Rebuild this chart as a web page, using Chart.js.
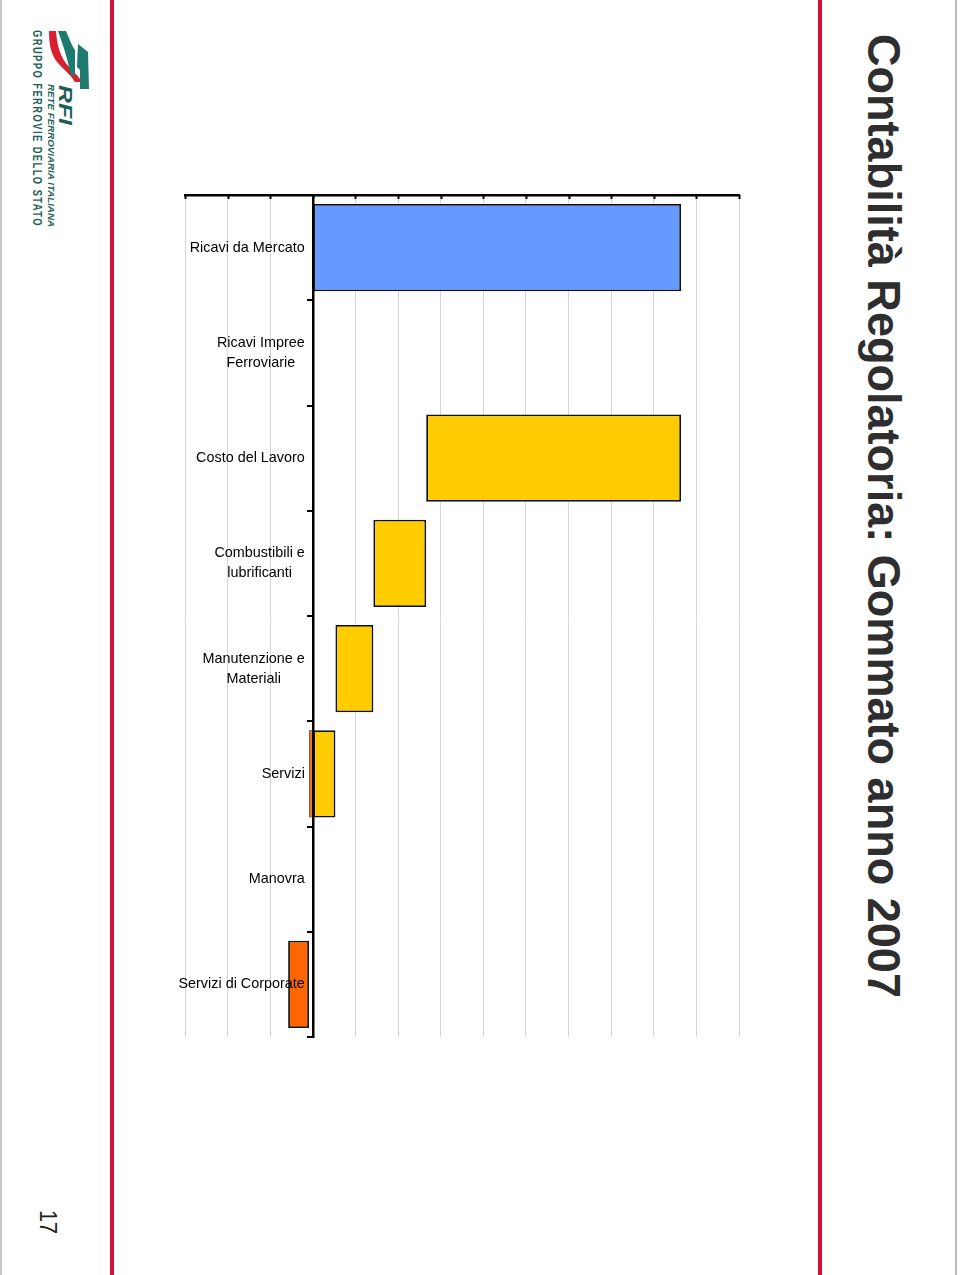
<!DOCTYPE html>
<html>
<head>
  <meta charset="utf-8">
  <script src="https://cdn.jsdelivr.net/npm/chart.js@4/dist/chart.umd.min.js"></script>
  <style>
    html, body { margin: 0; padding: 0; background: #fff; }
    #page { position: relative; width: 960px; height: 1275px; overflow: hidden; background: #fff; }
    #chart { position: absolute; left: 0; top: 0; }
    .vline { position: absolute; top: 0; height: 1275px; }
    .vtext { position: absolute; writing-mode: vertical-rl; white-space: nowrap; transform-origin: top left; font-family: "Liberation Sans", Arial, sans-serif; }
  </style>
</head>
<body>
<div id="page">
  <div class="vline" style="left:0;width:2px;background:#c8c8c8"></div>
  <div class="vline" style="left:955px;width:2px;background:#b8b8b8"></div>
  <div class="vline" style="left:110px;width:4px;background:#d3123b"></div>
  <div class="vline" style="left:818px;width:4px;background:#d3123b"></div>

  <svg style="position:absolute;left:0;top:0" width="110" height="130">
    <path d="M49,31 L56,31 C57,45 60,58 70,68 C76,74 80,78 82,82 L75,82 C71,75 64,70 58,63 C51,55 49,45 49,31 Z" fill="#d8202e"/>
    <path d="M58,31 L66,31 C70,40 72,46 75,50 L75,77 L70,73 C68,60 64,48 58,31 Z" fill="#1d7a6e"/>
    <path d="M78,44 L88,52 L89,89 L80,89 L80,70 L77,67 Z" fill="#1d7a6e"/>
  </svg>

  <div class="vtext" style="left:30px;top:30px;font-size:13px;font-weight:bold;color:#1d5f58;letter-spacing:2px" data-len="197">GRUPPO FERROVIE DELLO STATO</div>
  <div class="vtext" style="left:46px;top:84px;font-size:9.5px;font-weight:bold;font-style:italic;color:#1d5f58" data-len="143">RETE FERROVIARIA ITALIANA</div>
  <div class="vtext" style="left:54px;top:85px;font-size:19px;font-weight:bold;font-style:italic;color:#1d5f58" data-len="40">RFI</div>
  <div class="vtext" style="left:34px;top:1210px;font-size:23px;color:#222" data-len="24">17</div>
  <div class="vtext" style="left:857px;top:34px;font-size:46px;font-weight:bold;color:#2e2e2e" data-len="964">Contabilità Regolatoria: Gommato anno 2007</div>

  <canvas id="chart" width="960" height="1275"></canvas>
</div>
<script>
  // categorie (asse verticale) e barre flottanti [inizio, fine]
  var categories = ['Ricavi da Mercato', ['Ricavi Impree', 'Ferroviarie'], 'Costo del Lavoro',
    ['Combustibili e', 'lubrificanti'], ['Manutenzione e', 'Materiali'], 'Servizi', 'Manovra', 'Servizi di Corporate'];
  var ricaviBar = [[0, 8.64], null, null, null, null, null, null, null];
  var costiBar = [null, null, [2.66, 8.64], [1.42, 2.66], [0.53, 1.42], [0, 0.53], null, null];
  var negativoBar = [null, null, null, null, null, [-0.09, 0], null, [-0.58, -0.09]];
  var xMin = -3, xMax = 10, xStep = 1;

  // fit the rotated texts to their measured length
  document.querySelectorAll('.vtext').forEach(function(el){
    var want = parseFloat(el.getAttribute('data-len'));
    var have = el.getBoundingClientRect().height;
    el.style.transform = 'scaleY(' + (want / have) + ')';
  });

  var labelFont = '14.4px "Liberation Sans", Arial, sans-serif';

  var decoPlugin = {
    id: 'deco',
    afterDraw: function(chart){
      var ctx = chart.ctx, xs = chart.scales.x, ys = chart.scales.y, area = chart.chartArea;
      ctx.save();
      // short tick marks under the top axis
      ctx.strokeStyle = '#000';
      ctx.lineWidth = 2;
      xs.ticks.forEach(function(t){
        var px = Math.round(xs.getPixelForValue(t.value)) + 0.5;
        ctx.beginPath();
        ctx.moveTo(px, area.top);
        ctx.lineTo(px, area.top + 4);
        ctx.stroke();
      });
      // category labels: block right aligned, lines centred
      var right = xs.getPixelForValue(0) - 8;
      ctx.font = labelFont;
      ctx.fillStyle = '#000';
      ctx.textAlign = 'center';
      ctx.textBaseline = 'middle';
      categories.forEach(function(lab, i){
        var lines = Array.isArray(lab) ? lab : [lab];
        var w = 0;
        lines.forEach(function(l){ w = Math.max(w, ctx.measureText(l).width); });
        var cy = ys.getPixelForValue(i);
        var lh = 20;
        lines.forEach(function(l, k){
          ctx.fillText(l, right - w / 2, cy + (k - (lines.length - 1) / 2) * lh);
        });
      });
      ctx.restore();
    }
  };

  var barStyle = { borderColor: '#111', borderWidth: 1.8, borderSkipped: false,
    categoryPercentage: 1.0, barPercentage: 0.83 };

  new Chart(document.getElementById('chart'), {
    type: 'bar',
    data: {
      labels: categories,
      datasets: [
        Object.assign({ label: 'Ricavi', data: ricaviBar, backgroundColor: '#6699ff' }, barStyle),
        Object.assign({ label: 'Costi', data: costiBar, backgroundColor: '#ffcc00' }, barStyle),
        Object.assign({}, barStyle, { label: 'Negativo', data: negativoBar, backgroundColor: '#ff6600',
          borderWidth: [1.8, 1.8, 1.8, 1.8, 1.8, 0.7, 1.8, 1.8] })
      ]
    },
    options: {
      indexAxis: 'y',
      responsive: false,
      animation: false,
      devicePixelRatio: 1,
      layout: { padding: { left: 185, right: 221, top: 195, bottom: 238 } },
      plugins: { legend: { display: false }, tooltip: { enabled: false } },
      scales: {
        x: {
          position: 'top',
          min: xMin, max: xMax,
          ticks: { display: false, stepSize: xStep },
          grid: { color: '#d6d6d6', lineWidth: 1, drawTicks: false },
          border: { color: '#000', width: 2.5 }
        },
        y: {
          position: { x: 0 },
          stacked: true,
          ticks: { display: false },
          grid: { drawOnChartArea: false, color: '#000', lineWidth: 2, tickLength: 5 },
          border: { color: '#000', width: 2.5 }
        }
      }
    },
    plugins: [decoPlugin]
  });
</script>
</body>
</html>
